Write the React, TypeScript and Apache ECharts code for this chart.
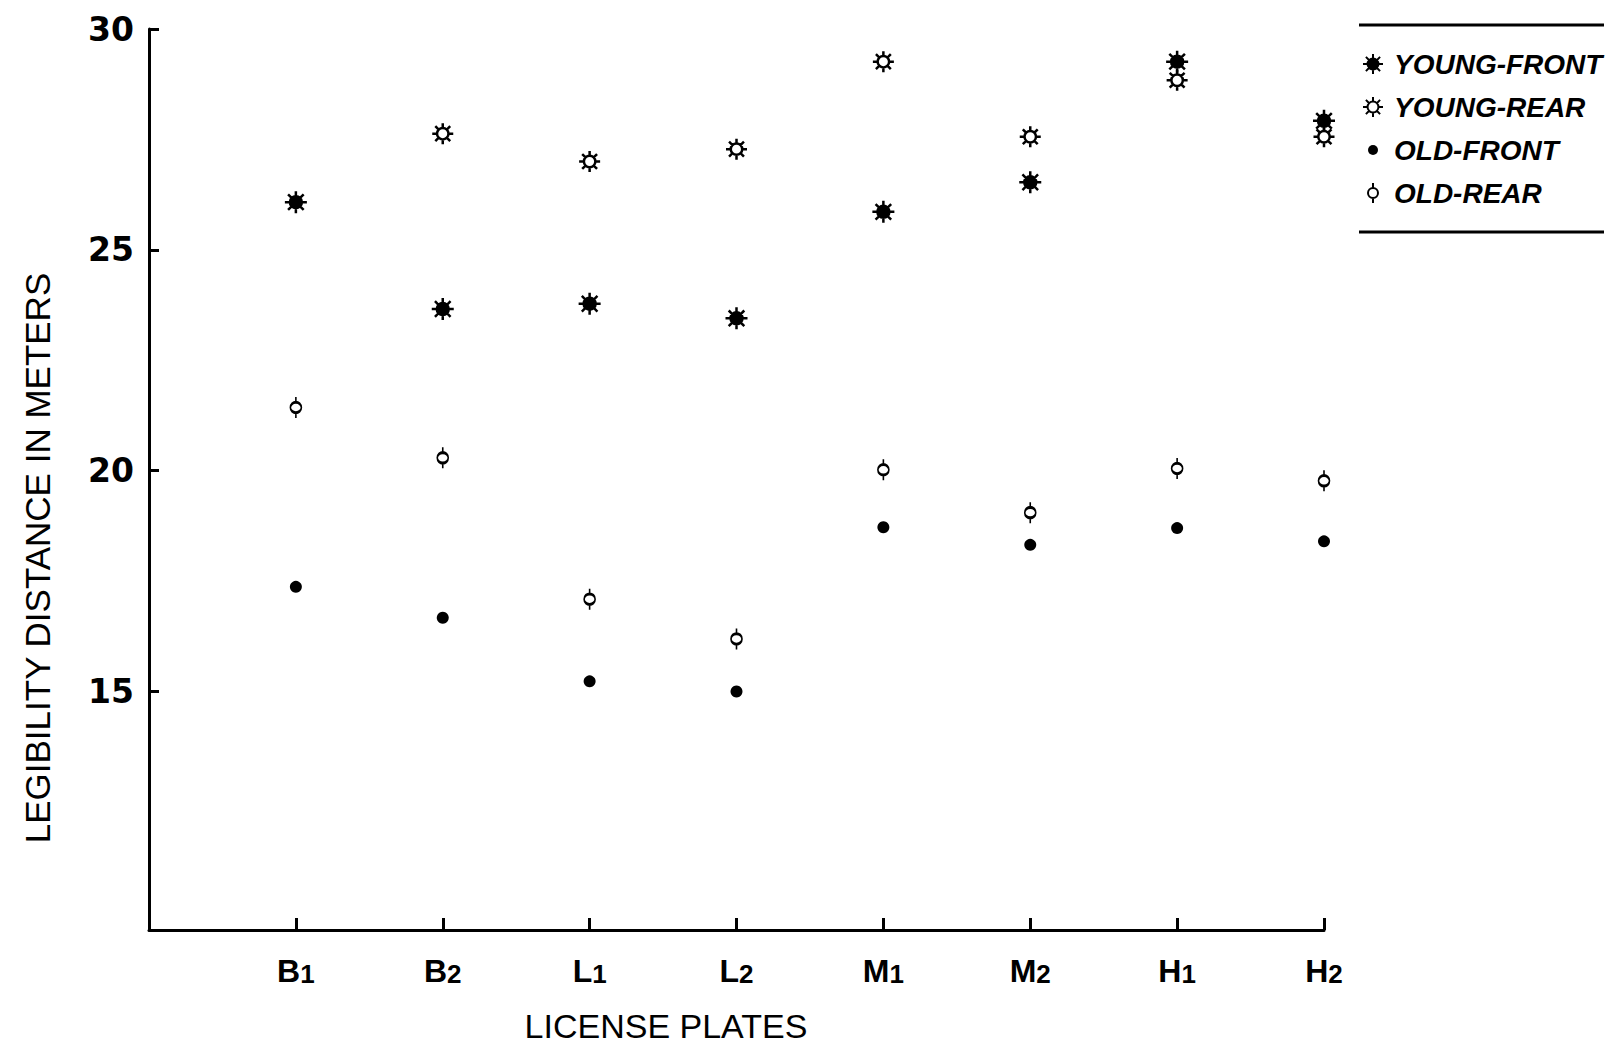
import React, { useEffect, useRef } from 'react';
import * as echarts from 'echarts';

const plateLetters = ['B', 'B', 'L', 'L', 'M', 'M', 'H', 'H'];
const plateSubs = ['1', '2', '1', '2', '1', '2', '1', '2'];
const seriesNames = ['YOUNG-FRONT', 'YOUNG-REAR', 'OLD-FRONT', 'OLD-REAR'];
const youngFront = [26.08, 23.66, 23.78, 23.45, 25.86, 26.53, 29.26, 27.92];
const youngRear = [30.21, 27.63, 27.0, 27.28, 29.26, 27.56, 28.84, 27.56];
const oldFront = [17.37, 16.67, 15.23, 15.0, 18.72, 18.32, 18.7, 18.4];
const oldRear = [21.43, 20.29, 17.09, 16.19, 20.02, 19.05, 20.05, 19.77];
const yTicks = [15, 20, 25, 30];
const xTicks = [1, 2, 3, 4, 5, 6, 7, 8];

const STAR =
  'path://M11 0 L11 5 M11 17 L11 22 M0 11 L5 11 M17 11 L22 11 ' +
  'M3.2 3.2 L6.8 6.8 M15.2 15.2 L18.8 18.8 M18.8 3.2 L15.2 6.8 M6.8 15.2 L3.2 18.8 ' +
  'M17 11 A6 6 0 1 1 5 11 A6 6 0 1 1 17 11 Z';
const PHI = 'path://M5 0 L5 5 M5 15 L5 20 M10 10 A5 5 0 1 1 0 10 A5 5 0 1 1 10 10 Z';
const SMALL_DOT = 'path://M0 0 M20 20 M15 10 A5 5 0 1 1 5 10 A5 5 0 1 1 15 10 Z';

const toData = (arr: number[]) => arr.map((v, i) => [i + 1, v]);

export default function App() {
  const ref = useRef<HTMLDivElement>(null);
  useEffect(() => {
    if (!ref.current) return;
    const chart = echarts.init(ref.current, null, { renderer: 'svg' });
    const axisFont = 'Liberation Sans';
    chart.setOption({
      animation: false,
      backgroundColor: '#ffffff',
      grid: { left: 149, right: 288, top: 29, bottom: 115 },
      legend: {
        orient: 'vertical',
        left: 1357,
        top: 45,
        itemWidth: 20,
        itemHeight: 20,
        itemGap: 15,
        selectedMode: false,
        data: [
          { name: seriesNames[0] },
          { name: seriesNames[1] },
          { name: seriesNames[2], icon: SMALL_DOT },
          { name: seriesNames[3] },
        ],
        textStyle: {
          fontFamily: axisFont,
          fontSize: 28,
          fontStyle: 'italic',
          fontWeight: 'bold',
          color: '#000',
          padding: [0, 0, 0, 6],
        },
      },
      xAxis: {
        type: 'value',
        min: 0,
        max: 8,
        splitLine: { show: false },
        axisLine: { show: true, lineStyle: { color: '#000', width: 3 } },
        axisTick: {
          show: true,
          inside: true,
          length: 12,
          customValues: xTicks,
          lineStyle: { color: '#000', width: 3 },
        },
        axisLabel: {
          customValues: xTicks,
          margin: 25,
          formatter: (v: number) => {
            const i = Math.round(v) - 1;
            return `{b|${plateLetters[i]}}{s|${plateSubs[i]}}`;
          },
          rich: {
            b: { fontFamily: axisFont, fontSize: 32, fontWeight: 'bold', color: '#000', lineHeight: 32, verticalAlign: 'top' },
            s: { fontFamily: axisFont, fontSize: 26, fontWeight: 'bold', color: '#000', lineHeight: 12, verticalAlign: 'bottom' },
          },
        },
      },
      yAxis: {
        type: 'value',
        min: 9.6,
        max: 30,
        splitLine: { show: false },
        axisLine: { show: true, lineStyle: { color: '#000', width: 3 } },
        axisTick: {
          show: true,
          inside: true,
          length: 10,
          customValues: yTicks,
          lineStyle: { color: '#000', width: 3 },
        },
        axisLabel: {
          customValues: yTicks,
          margin: 15,
          fontFamily: 'DejaVu Sans',
          fontSize: 33,
          fontWeight: 'bold',
          color: '#000',
        },
      },
      graphic: [
        {
          type: 'text',
          x: 666,
          y: 1026,
          style: {
            text: 'LICENSE PLATES',
            fontFamily: axisFont,
            fontSize: 34,
            fill: '#000',
            textAlign: 'center',
            textVerticalAlign: 'middle',
          },
        },
        {
          type: 'text',
          x: 37,
          y: 558,
          rotation: Math.PI / 2,
          style: {
            text: 'LEGIBILITY DISTANCE IN METERS',
            fontFamily: axisFont,
            fontSize: 35,
            fill: '#000',
            textAlign: 'center',
            textVerticalAlign: 'middle',
          },
        },
        {
          type: 'line',
          shape: { x1: 1359, y1: 25, x2: 1604, y2: 25 },
          style: { stroke: '#000', lineWidth: 3 },
        },
        {
          type: 'line',
          shape: { x1: 1359, y1: 232, x2: 1604, y2: 232 },
          style: { stroke: '#000', lineWidth: 3 },
        },
      ],
      series: [
        {
          name: seriesNames[0],
          type: 'scatter',
          symbol: STAR,
          symbolSize: 22,
          data: toData(youngFront),
          itemStyle: { color: '#000', borderColor: '#000', borderWidth: 2.5, opacity: 1 },
        },
        {
          name: seriesNames[1],
          type: 'scatter',
          symbol: STAR,
          symbolSize: 21,
          data: toData(youngRear),
          itemStyle: { color: '#fff', borderColor: '#000', borderWidth: 2.5, opacity: 1 },
        },
        {
          name: seriesNames[2],
          type: 'scatter',
          symbol: 'circle',
          symbolSize: 12,
          data: toData(oldFront),
          itemStyle: { color: '#000', opacity: 1 },
        },
        {
          name: seriesNames[3],
          type: 'scatter',
          symbol: PHI,
          symbolSize: [11, 21],
          data: toData(oldRear),
          itemStyle: { color: '#fff', borderColor: '#000', borderWidth: 2.2, opacity: 1 },
        },
      ],
    });
    return () => chart.dispose();
  }, []);
  return (
    <div
      ref={ref}
      style={{ position: 'fixed', left: 0, top: 0, width: 1612, height: 1045, background: '#fff' }}
    />
  );
}
